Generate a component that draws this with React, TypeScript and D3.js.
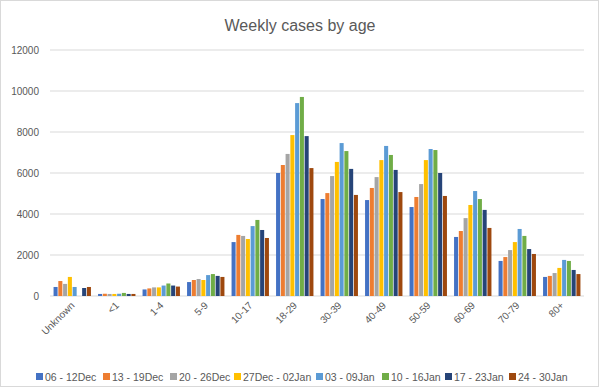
import React from "react";
import * as d3 from "d3";

const categories = ["Unknown", "<1", "1-4", "5-9", "10-17", "18-29", "30-39", "40-49", "50-59", "60-69", "70-79", "80+"];
const seriesNames = ["06 - 12Dec", "13 - 19Dec", "20 - 26Dec", "27Dec - 02Jan", "03 - 09Jan", "10 - 16Jan", "17 - 23Jan", "24 - 30Jan"];
const colors = ["#4472C4", "#ED7D31", "#A5A5A5", "#FFC000", "#5B9BD5", "#70AD47", "#264478", "#9E480E"];

const w1 = [440, 100, 320, 680, 2630, 6000, 4730, 4680, 4340, 2880, 1710, 930];
const w2 = [730, 110, 370, 780, 2980, 6390, 5020, 5270, 4830, 3170, 1900, 980];
const w3 = [590, 100, 420, 830, 2930, 6930, 5850, 5800, 5460, 3800, 2240, 1120];
const w4 = [930, 100, 420, 780, 2780, 7850, 6540, 6630, 6630, 4440, 2630, 1370];
const w5 = [440, 110, 510, 1020, 3410, 9410, 7460, 7320, 7170, 5120, 3270, 1760];
const w6 = [0, 150, 610, 1070, 3710, 9710, 7070, 6880, 7120, 4730, 2930, 1710];
const w7 = [390, 100, 510, 980, 3220, 7800, 6200, 6150, 6000, 4200, 2290, 1270];
const w8 = [440, 100, 460, 930, 2830, 6240, 4930, 5070, 4880, 3320, 2050, 1070];
const seriesValues = [w1, w2, w3, w4, w5, w6, w7, w8];
const yTicks = [0, 2000, 4000, 6000, 8000, 10000, 12000];

const W = 599;
const H = 387;
const FONT = "'Liberation Sans', Arial, sans-serif";
const TXT = "#595959";

export default function App() {
  const x0 = d3.scaleBand<string>().domain(categories).range([50, 584]).paddingInner(0.16).paddingOuter(0.08);
  const x1 = d3.scaleBand<number>().domain(d3.range(seriesNames.length)).range([0, x0.bandwidth()]).paddingInner(0.15);
  const y = d3.scaleLinear().domain([0, 12000]).range([296, 50]);

  const legendX = [36, 103, 170, 234, 316, 382, 445, 509];

  return (
    <svg width={W} height={H} style={{ position: "absolute", left: 0, top: 0, background: "#fff" }} fontFamily={FONT}>
      <rect x={0.5} y={0.5} width={W - 1} height={H - 1} fill="#fff" stroke="#d9d9d9" />
      <text x={300} y={31} textAnchor="middle" fontSize={16} fill={TXT}>Weekly cases by age</text>
      {yTicks.map((t) => (
        <g key={t}>
          <line x1={50} x2={584} y1={y(t)} y2={y(t)} stroke="#d9d9d9" strokeWidth={1} />
          <text x={39} y={y(t) + 3.5} textAnchor="end" fontSize={10} fill={TXT}>{t}</text>
        </g>
      ))}
      {categories.map((c, ci) => (
        <g key={c} transform={`translate(${x0(c)},0)`}>
          {seriesValues.map((vals, si) => (
            <rect key={si} x={x1(si)} y={y(vals[ci])} width={x1.bandwidth()} height={296 - y(vals[ci])} fill={colors[si]} />
          ))}
        </g>
      ))}
      {categories.map((c) => {
        const cx = (x0(c) as number) + x0.bandwidth() / 2 + 3;
        return (
          <text key={c} transform={`translate(${cx},306) rotate(-45)`} textAnchor="end" fontSize={10} fill={TXT}>{c}</text>
        );
      })}
      {seriesNames.map((s, i) => (
        <g key={s}>
          <rect x={legendX[i]} y={373} width={7} height={7} fill={colors[i]} />
          <text x={legendX[i] + 9} y={380.5} fontSize={10.5} fill={TXT}>{s}</text>
        </g>
      ))}
    </svg>
  );
}
